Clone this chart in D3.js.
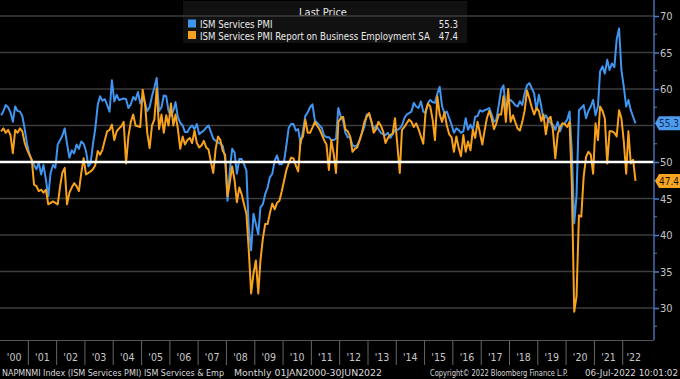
<!DOCTYPE html>
<html><head><meta charset="utf-8">
<script src="https://cdn.jsdelivr.net/npm/d3@7/dist/d3.min.js"></script>
<style>
html,body{margin:0;padding:0;background:#000;}
svg{display:block;}
text{font-family:"DejaVu Sans Condensed","Liberation Sans Narrow",sans-serif;}
</style></head>
<body>
<script>
// ---- data (monthly, Jan 2000 .. Jun 2022) ----
const startYear = 2000, startMonth = 0;
const pmi = [
56.4,57.0,57.8,57.5,56.8,55.5,57.6,57.0,56.9,56.3,54.5,52.5,
51.0,50.2,49.6,49.0,49.9,48.3,49.6,47.6,45.3,48.5,49.6,49.2,
52.4,53.0,53.6,54.6,52.5,50.6,51.6,51.2,52.4,51.8,52.8,52.5,
51.5,49.4,49.8,52.5,54.6,57.8,59.0,58.4,58.6,57.8,56.9,61.2,
58.3,59.2,58.5,58.6,58.7,58.6,57.4,57.9,58.9,58.5,59.6,58.0,
59.0,58.0,57.0,57.5,59.0,60.2,61.5,57.0,57.5,59.1,59.0,57.0,
56.3,57.0,58.2,56.1,55.4,55.0,54.1,54.1,54.7,55.0,54.5,55.2,
53.8,54.1,54.3,54.7,55.0,54.1,53.2,52.9,52.7,52.5,52.2,50.5,
44.7,49.0,51.8,51.3,48.4,50.4,50.4,49.7,48.8,41.0,37.9,42.9,
41.5,40.1,43.8,44.2,45.6,46.5,47.9,48.4,50.2,50.9,49.7,49.7,
50.2,52.5,54.7,55.2,55.2,54.3,54.5,52.5,54.3,56.3,56.8,57.5,
57.9,55.7,55.4,55.0,54.7,53.6,53.4,53.4,53.0,53.0,53.2,57.4,
56.2,55.6,54.0,53.4,53.4,52.3,52.1,52.3,53.0,54.0,54.8,56.5,
56.5,55.5,54.4,55.0,54.5,54.0,53.8,53.7,54.0,53.3,53.8,54.4,
54.4,54.6,55.0,56.0,56.5,56.7,56.9,58.1,57.6,57.4,58.3,56.9,
56.7,58.1,58.5,58.2,58.1,59.4,60.3,57.6,56.7,56.9,56.0,55.1,
54.0,54.6,54.4,54.0,54.2,56.0,54.4,55.1,54.4,56.2,56.3,57.1,
56.9,57.1,57.2,57.4,56.5,55.5,55.8,57.8,59.9,60.5,57.3,58.3,
58.5,58.2,57.8,57.6,58.3,57.8,59.4,60.5,60.8,60.1,59.4,57.1,
59.2,57.6,55.8,56.4,55.8,55.3,55.1,54.4,55.5,54.2,55.1,55.3,
55.8,56.9,51.6,41.6,45.4,57.1,57.4,57.8,56.0,57.0,57.6,58.5,
56.4,57.6,62.4,63.1,62.1,64.0,62.6,63.5,63.0,66.8,68.3,62.6,
60.3,57.6,58.5,57.1,56.2,55.3
];
const employment = [
54.2,54.6,54.0,54.4,53.7,51.2,54.4,54.0,54.6,54.2,52.6,51.7,
51.0,50.3,46.9,46.7,46.0,46.2,45.8,46.2,44.2,44.4,44.6,44.4,
44.2,46.7,48.5,49.2,44.2,45.8,46.5,47.1,46.7,46.0,48.5,50.5,
48.3,48.5,48.7,49.0,49.6,51.5,51.0,51.7,53.0,54.2,54.4,55.1,
53.0,54.2,54.6,54.9,55.5,49.8,53.5,55.5,56.5,55.0,54.9,54.8,
59.9,58.0,54.0,51.9,55.0,55.8,60.1,54.5,56.5,54.0,56.4,55.0,
58.0,55.0,56.5,54.5,51.8,53.5,52.4,53.0,53.3,52.6,54.3,52.6,
52.0,52.3,52.9,52.0,51.7,50.0,48.5,51.8,53.5,53.0,51.5,51.0,
45.3,47.3,49.4,47.5,44.5,46.5,45.6,44.2,42.9,38.0,32.0,34.7,
36.5,32.0,36.5,39.5,41.5,41.5,43.0,44.3,43.5,44.4,44.7,46.0,
47.5,49.0,49.8,50.6,50.5,49.5,48.7,53.0,53.5,55.8,54.0,54.0,
54.7,55.5,55.0,54.5,53.8,53.0,52.4,48.9,53.0,51.2,48.5,55.5,
56.0,56.2,54.5,54.2,53.5,51.4,51.8,52.0,53.0,54.0,55.5,56.2,
56.7,55.5,54.0,54.5,55.5,55.0,54.2,52.6,53.3,53.7,53.9,56.0,
52.3,48.5,54.4,54.8,55.3,55.8,55.5,54.8,55.3,54.5,53.5,52.5,
57.0,58.0,57.6,55.8,53.0,59.0,56.5,55.5,56.8,55.0,53.8,53.4,
51.4,53.5,52.0,50.8,53.7,51.4,52.8,51.6,54.4,53.3,55.5,54.0,
52.4,54.4,56.0,57.0,56.0,54.5,55.3,56.5,56.5,59.0,55.5,60.0,
55.5,56.4,55.5,54.6,54.3,55.5,57.0,59.8,58.7,57.5,56.5,57.4,
57.0,55.6,56.5,53.8,55.8,56.2,54.4,50.5,53.8,54.8,55.3,55.2,
54.8,55.5,47.0,29.5,31.6,42.7,42.5,48.0,50.7,51.4,51.0,48.4,
55.3,53.0,57.6,57.0,56.0,49.8,54.2,54.2,54.0,53.5,57.1,56.0,
52.8,48.4,54.2,49.8,50.3,47.4
];
const yearLabels = ["'00","'01","'02","'03","'04","'05","'06","'07","'08","'09","'10","'11","'12","'13","'14","'15","'16","'17","'18","'19","'20","'21","'22"];
const yTicks = [30,35,40,45,50,55,60,65,70];
const seriesNames = ["ISM Services PMI","ISM Services PMI Report on Business Employment SA"];
const lastValues = ["55.3","47.4"];
const colors = ["#3f95ef","#f7a11c"];

// ---- layout ----
const W = 680, H = 379;
const axisX = 654, plotBottom = 340;
const x = d3.scaleTime().domain([new Date(2000,0,1), new Date(2022,6,1)]).range([0, 636.75]);
const y = d3.scaleLinear().domain([30,70]).range([308,16]);
const dateOf = i => new Date(startYear, startMonth + i, 15);

const svg = d3.select("body").append("svg").attr("width",W).attr("height",H);
svg.append("rect").attr("width",W).attr("height",H).attr("fill","#000");

// legend box (behind grid)
const lg = svg.append("g");
lg.append("rect").attr("x",183).attr("y",1).attr("width",284).attr("height",42).attr("fill","#111");

// gridlines
svg.append("g").selectAll("line").data(yTicks.filter(v=>v!==50)).join("line")
  .attr("x1",0).attr("x2",axisX).attr("y1",d=>y(d)).attr("y2",d=>y(d))
  .attr("stroke","#3d3d3d").attr("stroke-width",1.3);

// series lines
const line = d3.line().x((d,i)=>x(dateOf(i))).y(d=>y(d));
[pmi, employment].forEach((s,k)=>{
  svg.append("path").datum(s).attr("d",line).attr("fill","none")
    .attr("stroke",colors[k]).attr("stroke-width",2).attr("stroke-linejoin","round");
});

// 50 reference line
svg.append("line").attr("x1",0).attr("x2",axisX).attr("y1",y(50)).attr("y2",y(50))
  .attr("stroke","#fff").attr("stroke-width",2.6);

// bottom border
svg.append("line").attr("x1",0).attr("x2",axisX).attr("y1",plotBottom+0.5).attr("y2",plotBottom+0.5)
  .attr("stroke","#555").attr("stroke-width",1);

// right axis
svg.append("line").attr("x1",axisX).attr("x2",axisX).attr("y1",0).attr("y2",plotBottom)
  .attr("stroke","#3e6fb0").attr("stroke-width",1.5);
const lastVals = [pmi[pmi.length-1], employment[employment.length-1]];
const ya = svg.append("g").attr("transform",`translate(${axisX},0)`)
  .call(d3.axisRight(y).tickValues(yTicks.filter(t=>!lastVals.some(v=>Math.abs(v-t)<1.2)))
    .tickSize(5).tickPadding(1).tickFormat(d3.format("d")));
ya.select(".domain").remove();
ya.selectAll(".tick line").attr("stroke","#4a80c8").attr("stroke-width",1.5);
ya.selectAll(".tick text").attr("fill","#c4c4c4").attr("font-size",11)
  .style("font-family",'"DejaVu Sans Condensed",sans-serif');
const minor = d3.range(27.5, 72, 5);
svg.append("g").selectAll("line").data(minor).join("line")
  .attr("x1",axisX).attr("x2",axisX+3).attr("y1",d=>y(d)).attr("y2",d=>y(d))
  .attr("stroke","#4a80c8").attr("stroke-width",1);

// last value tags
const tagFill = ["#4c9cf0","#f7a521"], tagText = ["#0d2a50","#1a1200"];
[pmi, employment].forEach((s,k)=>{
  const v = s[s.length-1], yc = y(v);
  const g = svg.append("g");
  g.append("path").attr("d",`M${axisX+1},${yc} L${axisX+5},${yc-7} L680,${yc-7} L680,${yc+7} L${axisX+5},${yc+7} Z`)
    .attr("fill",tagFill[k]);
  g.append("text").attr("x",679).attr("y",yc+3.8).attr("text-anchor","end").attr("font-size",10)
    .attr("fill",tagText[k]).text(lastValues[k]);
});

// x axis (year bands)
const years = d3.range(2000, 2023);
const xa = svg.append("g");
xa.selectAll("line").data(years.slice(1)).join("line")
  .attr("x1",d=>x(new Date(d,0,1))).attr("x2",d=>x(new Date(d,0,1)))
  .attr("y1",plotBottom+1).attr("y2",365).attr("stroke","#666").attr("stroke-width",1);
xa.selectAll("text").data(years).join("text")
  .attr("x",(d,i)=> i===years.length-1 ? x(new Date(2022,3,1))+4 : x(new Date(d,6,1)))
  .attr("y",361).attr("text-anchor","middle").attr("font-size",10.5)
  .attr("fill","#c8c8c8").text((d,i)=>yearLabels[i]);

// legend contents
lg.append("text").attr("x",323).attr("y",16).attr("text-anchor","middle")
  .attr("font-size",11).attr("fill","#e6e6e6").text("Last Price");
seriesNames.forEach((n,k)=>{
  const yy = 24 + k*11.5;
  lg.append("rect").attr("x",188).attr("y",yy-4.5).attr("width",8).attr("height",8).attr("fill",colors[k]);
  lg.append("text").attr("x",200).attr("y",yy+4).attr("font-size",9.6).attr("fill","#eaeaea").text(n);
  lg.append("text").attr("x",458).attr("y",yy+4).attr("text-anchor","end").attr("font-size",9.6)
    .attr("fill","#eaeaea").text(lastValues[k]);
});

// footer
const foot = [
  {t:"NAPMNMI Index (ISM Services PMI) ISM Services & Emp", x:2, w:222, fs:9},
  {t:"Monthly 01JAN2000-30JUN2022", x:234, w:148, fs:9.2},
  {t:"Copyright\u00A9 2022 Bloomberg Finance L.P.", x:430, w:138, fs:8.4},
  {t:"06-Jul-2022 10:01:02", x:585, w:93, fs:8.6}
];
svg.append("g").selectAll("text").data(foot).join("text")
  .attr("x",d=>d.x).attr("y",376).attr("textLength",d=>d.w).attr("lengthAdjust","spacingAndGlyphs")
  .attr("font-size",d=>d.fs).attr("fill","#d8d8d8").text(d=>d.t);
</script>
</body></html>
